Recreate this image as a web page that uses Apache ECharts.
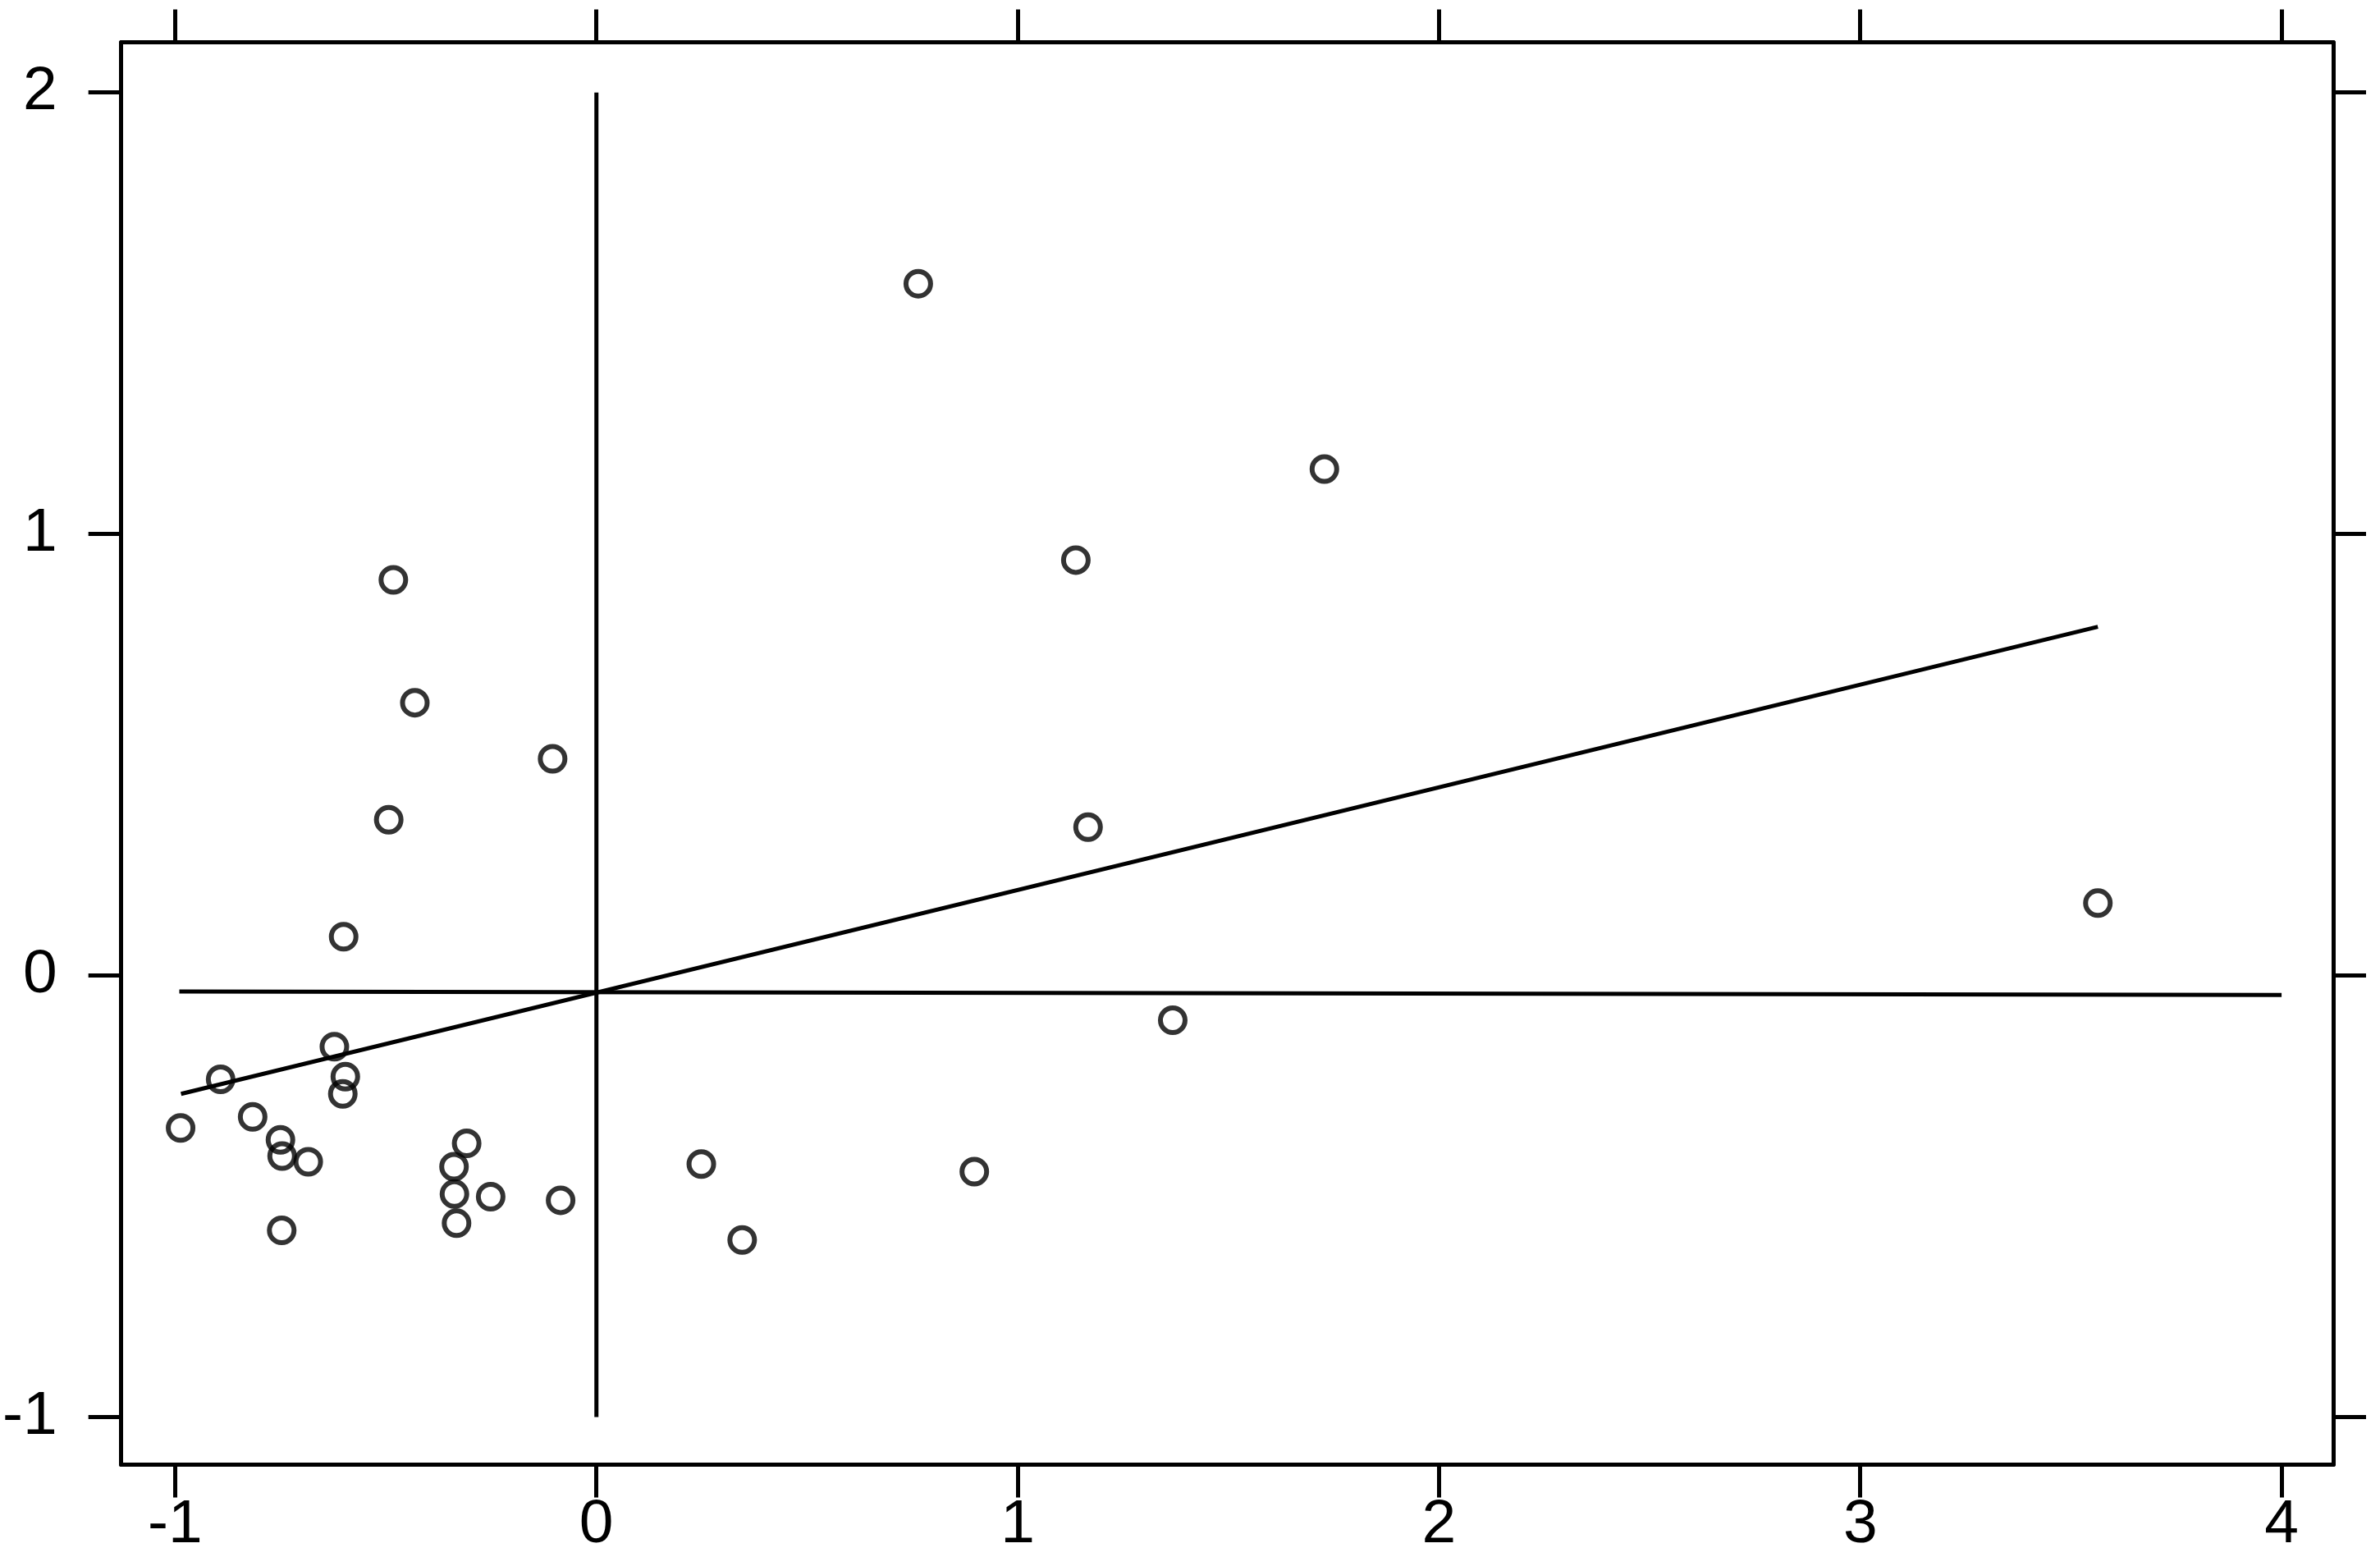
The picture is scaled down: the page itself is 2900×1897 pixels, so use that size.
<!DOCTYPE html>
<html>
<head>
<meta charset="utf-8">
<script src="https://cdn.jsdelivr.net/npm/echarts@6/dist/echarts.min.js"></script>
<style>
  html, body { margin: 0; padding: 0; background: #fff; }
  #chart { width: 2900px; height: 1897px; }
</style>
</head>
<body>
<div id="chart"></div>
<script>
// points
const xVals = [0.764, 1.728, 1.138, -0.482, -0.431, -0.104, -0.493, 1.167, 3.564, -0.600,
  1.368, -0.622, -0.892, -0.596, -0.602, -0.987, -0.816, -0.750, -0.746, -0.684,
  -0.308, -0.338, -0.337, -0.332, -0.251, -0.085, 0.249, 0.346, 0.897, -0.747];
const yVals = [1.567, 1.147, 0.941, 0.896, 0.618, 0.491, 0.353, 0.336, 0.164, 0.088,
  -0.101, -0.161, -0.235, -0.229, -0.268, -0.345, -0.320, -0.372, -0.409, -0.422,
  -0.380, -0.433, -0.495, -0.561, -0.501, -0.509, -0.427, -0.599, -0.444, -0.577];

// reference lines (end points)
const fitX = [-0.986, 3.564];
const fitY = [-0.268, 0.790];
const flatX = [-0.99, 4.0];
const flatY = [-0.036, -0.044];
const vertX = [0, 0];
const vertY = [-1, 2];

const xTicks = [-1, 0, 1, 2, 3, 4];
const yTicks = [-1, 0, 1, 2];

const xMin = -1.128, xMax = 4.1226;
const yMin = -1.1078, yMax = 2.1138;

const pairs = (a, b) => a.map((v, i) => [v, b[i]]);

let myChart = echarts.init(document.getElementById('chart'));
const lineCol = '#000';
const font = 'Liberation Sans, Arial, sans-serif';

const axisBase = {
  type: 'value',
  splitLine: { show: false },
  axisLine: { show: true, onZero: false, lineStyle: { color: lineCol, width: 5 } },
  axisTick: { show: true, inside: false, length: 40, lineStyle: { color: lineCol, width: 5 } }
};

myChart.setOption({
  backgroundColor: '#fff',
  animation: false,
  grid: { left: 145, top: 51.5, width: 2698, height: 1733, containLabel: false },
  xAxis: [
    Object.assign({}, axisBase, {
      position: 'bottom', min: xMin, max: xMax,
      axisTick: Object.assign({}, axisBase.axisTick, { customValues: xTicks }),
      axisLabel: { show: true, customValues: xTicks, margin: 36, color: '#000', fontSize: 75, fontFamily: font,
        showMinLabel: true, showMaxLabel: true }
    }),
    Object.assign({}, axisBase, {
      position: 'top', min: xMin, max: xMax,
      axisTick: Object.assign({}, axisBase.axisTick, { customValues: xTicks }),
      axisLabel: { show: false }
    })
  ],
  yAxis: [
    Object.assign({}, axisBase, {
      position: 'left', min: yMin, max: yMax,
      axisTick: Object.assign({}, axisBase.axisTick, { customValues: yTicks }),
      axisLabel: { show: true, customValues: yTicks, margin: 78, color: '#000', fontSize: 75, fontFamily: font,
        showMinLabel: true, showMaxLabel: true }
    }),
    Object.assign({}, axisBase, {
      position: 'right', min: yMin, max: yMax,
      axisTick: Object.assign({}, axisBase.axisTick, { customValues: yTicks }),
      axisLabel: { show: false }
    })
  ],
  series: [
    {
      type: 'line', data: pairs(vertX, vertY), symbol: 'none',
      lineStyle: { color: lineCol, width: 5 }
    },
    {
      type: 'line', data: pairs(flatX, flatY), symbol: 'none',
      lineStyle: { color: lineCol, width: 5 }
    },
    {
      type: 'line', data: pairs(fitX, fitY), symbol: 'none',
      lineStyle: { color: lineCol, width: 5 }
    },
    {
      type: 'scatter', data: pairs(xVals, yVals), symbol: 'circle', symbolSize: 30,
      itemStyle: { color: 'rgba(0,0,0,0)', borderColor: lineCol, borderWidth: 6 }
    }
  ]
});
window.addEventListener('resize', () => myChart.resize());
</script>
</body>
</html>
